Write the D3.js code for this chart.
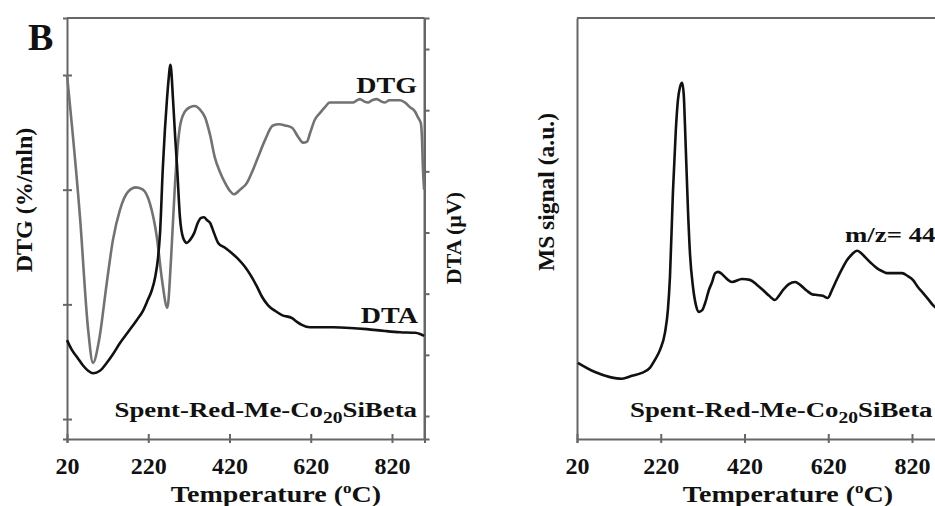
<!DOCTYPE html>
<html lang="en">
<head>
  <meta charset="UTF-8" />
  <title>DTG / DTA and MS signal</title>
  <script src="https://d3js.org/d3.v7.min.js"></script>
  <style>
    body {
      margin: 0;
      background: #fff;
    }
    svg {
      display: block;
      background-color: #fff;
      font-family: "Liberation Serif", "Times New Roman", serif;
      font-weight: bold;
    }
    .axis path, .axis line {
      stroke: #666;
      stroke-width: 2;
    }
    .axis text {
      font-family: "Liberation Serif", "Times New Roman", serif;
      font-weight: bold;
      font-size: 24px;
      fill: #111;
    }
  </style>
</head>
<body>
  <div id="chart"></div>

  <script>
    // temperature (°C)
    const xTicks = [20, 220, 420, 620, 820];

    // DTG (grey curve, left axis, arbitrary units)
    const dtgT = [20, 52, 72, 84, 99, 118, 133, 150, 170, 190, 207, 224, 241, 254, 267, 276, 286, 298, 310, 323,
      335, 347, 360, 372, 384, 397, 409, 421, 431, 446, 463, 475, 490, 507, 527, 542, 557, 574, 589, 601,
      611, 618, 630, 643, 655, 667, 685, 699, 712, 724, 734, 741, 751, 761, 771, 783, 793, 803, 813, 822,
      840, 852, 864, 877, 884, 891, 894, 896, 899];
    const dtgV = [3.00, 1.76, 0.78, 0.49, 0.69, 1.19, 1.56, 1.82, 1.98, 2.02, 2.00, 1.88, 1.59, 1.21, 0.97, 1.39, 2.06, 2.55, 2.68, 2.72,
      2.73, 2.70, 2.63, 2.48, 2.28, 2.15, 2.06, 1.99, 1.96, 2.00, 2.06, 2.15, 2.28, 2.43, 2.56, 2.57, 2.56, 2.54, 2.46, 2.41,
      2.42, 2.49, 2.61, 2.67, 2.72, 2.76, 2.76, 2.76, 2.76, 2.76, 2.78, 2.79, 2.77, 2.76, 2.78, 2.79, 2.77, 2.76, 2.78, 2.78,
      2.78, 2.76, 2.72, 2.68, 2.63, 2.58, 2.43, 2.20, 2.00];

    // DTA (black curve, right axis, arbitrary units)
    const dtaT = [20, 32, 45, 59, 72, 84, 101, 118, 133, 150, 170, 192, 207, 219, 229, 237, 244, 249, 256, 261,
      266, 271, 274, 276, 281, 286, 291, 298, 306, 315, 323, 333, 342, 350, 357, 365, 372, 382, 392, 409,
      426, 441, 458, 473, 488, 500, 515, 532, 549, 574, 586, 598, 618, 675, 717, 758, 803, 840, 877, 889, 899];
    const dtaV = [1.24, 1.08, 0.96, 0.83, 0.74, 0.70, 0.74, 0.87, 1.01, 1.19, 1.37, 1.57, 1.72, 1.90, 2.06, 2.27, 2.58, 2.99, 4.07, 4.68,
      5.17, 5.57, 5.74, 5.69, 5.17, 4.59, 4.07, 3.25, 2.91, 2.83, 2.88, 2.99, 3.16, 3.24, 3.25, 3.20, 3.16, 2.99, 2.83, 2.75,
      2.66, 2.57, 2.44, 2.29, 2.11, 1.95, 1.81, 1.72, 1.65, 1.60, 1.54, 1.49, 1.45, 1.45, 1.44, 1.42, 1.39, 1.37, 1.36, 1.34, 1.31];

    // MS signal m/z = 44 (right panel, arbitrary units)
    const msT = [22, 63, 99, 127, 151, 175, 194, 206, 218, 230, 237, 242, 249, 256, 261, 266, 271, 275, 278, 285,
      290, 297, 304, 311, 319, 326, 335, 342, 350, 357, 366, 373, 390, 414, 433, 450, 464, 479, 493, 502,
      512, 526, 541, 553, 569, 581, 593, 607, 619, 629, 641, 653, 665, 677, 689, 698, 708, 722, 736, 748,
      760, 779, 796, 810, 822, 834, 846, 858, 870, 887];
    const msV = [18.1, 15.9, 14.7, 14.3, 15.0, 15.7, 16.9, 18.8, 21.1, 25.2, 30.6, 38.5, 58.4, 73.4, 80.5, 83.6, 84.6, 81.7, 74.1, 54.4,
      43.7, 36.1, 31.8, 30.2, 30.6, 32.3, 35.4, 37.1, 39.4, 39.7, 39.2, 38.5, 37.3, 38.0, 37.8, 36.6, 35.4, 34.0, 33.0, 34.0,
      35.4, 36.8, 37.3, 36.6, 35.2, 34.4, 34.2, 34.0, 33.5, 35.4, 38.0, 40.4, 42.5, 43.9, 44.7, 44.2, 43.2, 41.8, 40.6, 39.9,
      39.4, 39.4, 39.4, 38.7, 37.8, 36.1, 34.7, 33.3, 31.8, 30.4];

    const dtgTicks = [0, 1, 2, 3];
    const dtaTicks = [0, 1, 2, 3, 4, 5, 6];

    const W = 935, H = 506;
    const plotTop = 18, plotBottom = 439;
    const stretch = 1.22; // the labels in the figure are drawn a bit wide

    const svg = d3.select("#chart")
      .append("svg")
      .attr("width", W)
      .attr("height", H);

    // ---- left panel: DTG + DTA ----
    const xL = d3.scaleLinear().domain([20, 900]).range([67, 424.5]);
    const yDtg = d3.scaleLinear().domain([-0.174, 3.497]).range([plotBottom, plotTop]);
    const yDta = d3.scaleLinear().domain([-0.376, 6.507]).range([plotBottom, plotTop]);

    // ---- right panel: MS ----
    const xR = d3.scaleLinear().domain([20, 900]).range([577, 945.5]);
    const yMs = d3.scaleLinear().domain([0, 100]).range([plotBottom, plotTop]);

    // frame lines
    function frame(x0, x1) {
      svg.append("line").attr("x1", x0).attr("x2", x1).attr("y1", plotTop).attr("y2", plotTop)
        .attr("stroke", "#666").attr("stroke-width", 2);
      svg.append("line").attr("x1", x1).attr("x2", x1).attr("y1", plotTop).attr("y2", plotBottom)
        .attr("stroke", "#666").attr("stroke-width", 2);
    }
    frame(xL.range()[0], xL.range()[1]);
    frame(xR.range()[0], xR.range()[1]);

    // bottom axes
    [xL, xR].forEach(x => {
      svg.append("g")
        .attr("class", "axis")
        .attr("transform", `translate(0,${plotBottom})`)
        .call(d3.axisBottom(x).tickValues(xTicks).tickSizeOuter(0).tickSize(4).tickPadding(14))
        .call(g => g.selectAll(".tick line").attr("y1", -5).attr("y2", 4));
    });

    // left axis DTG
    svg.append("g")
      .attr("class", "axis")
      .attr("transform", `translate(${xL.range()[0]},0)`)
      .call(d3.axisLeft(yDtg).tickValues(dtgTicks).tickSizeOuter(0).tickSize(4).tickFormat(""))
      .call(g => g.selectAll(".tick line").attr("x1", -4).attr("x2", 5));

    // right axis DTA
    svg.append("g")
      .attr("class", "axis")
      .attr("transform", `translate(${xL.range()[1]},0)`)
      .call(d3.axisRight(yDta).tickValues(dtaTicks).tickSizeOuter(0).tickSize(5).tickFormat(""));

    // left axis MS (no ticks)
    svg.append("g")
      .attr("class", "axis")
      .attr("transform", `translate(${xR.range()[0]},0)`)
      .call(d3.axisLeft(yMs).tickValues([]).tickSizeOuter(0));

    // curves
    const lineDtg = d3.line().x(d => xL(d[0])).y(d => yDtg(d[1])).curve(d3.curveMonotoneX);
    const lineDta = d3.line().x(d => xL(d[0])).y(d => yDta(d[1])).curve(d3.curveMonotoneX);
    const lineMs = d3.line().x(d => xR(d[0])).y(d => yMs(d[1])).curve(d3.curveMonotoneX);

    svg.append("path")
      .datum(d3.zip(dtgT, dtgV))
      .attr("fill", "none")
      .attr("stroke", "#727272")
      .attr("stroke-width", 2.6)
      .attr("d", lineDtg);

    svg.append("path")
      .datum(d3.zip(dtaT, dtaV))
      .attr("fill", "none")
      .attr("stroke", "#111")
      .attr("stroke-width", 2.6)
      .attr("d", lineDta);

    svg.append("path")
      .datum(d3.zip(msT, msV))
      .attr("fill", "none")
      .attr("stroke", "#111")
      .attr("stroke-width", 2.6)
      .attr("d", lineMs);

    // horizontal labels, widened like the original
    function label(x, y, size, anchor) {
      return svg.append("text")
        .attr("transform", `translate(${x},${y}) scale(${stretch},1)`)
        .attr("font-size", size)
        .attr("text-anchor", anchor)
        .attr("fill", "#111");
    }

    svg.append("text")
      .attr("x", 28).attr("y", 50)
      .attr("font-size", 38)
      .attr("fill", "#111")
      .text("B");

    label(417, 93, 23, "end").text("DTG");
    label(418, 323, 23, "end").text("DTA");
    label(845, 242, 22, "start").text("m/z= 44");

    // sample name with subscript
    function sample(x, anchor) {
      const t = label(x, 417, 22, anchor);
      t.append("tspan").text("Spent-Red-Me-Co");
      t.append("tspan").attr("dy", 6).attr("font-size", 16).text("20");
      t.append("tspan").attr("dy", -6).text("SiBeta");
    }
    sample(417, "end");
    sample(630, "start");

    // x titles
    function xTitle(x) {
      const t = label(x, 502, 23, "middle");
      t.append("tspan").text("Temperature (");
      t.append("tspan").attr("dy", -9).attr("font-size", 14).text("o");
      t.append("tspan").attr("dy", 9).text("C)");
    }
    xTitle(276);
    xTitle(788);

    // y titles
    const yTitle = (x, y, s, size) => svg.append("text")
      .attr("transform", `translate(${x},${y}) rotate(-90)`)
      .attr("font-size", size)
      .attr("text-anchor", "middle")
      .attr("fill", "#111")
      .text(s);

    yTitle(32, 200, "DTG (%/mln)", 24);
    yTitle(461, 238, "DTA (\u00b5V)", 22);
    yTitle(554, 192, "MS signal (a.u.)", 23.5);
  </script>
</body>
</html>
